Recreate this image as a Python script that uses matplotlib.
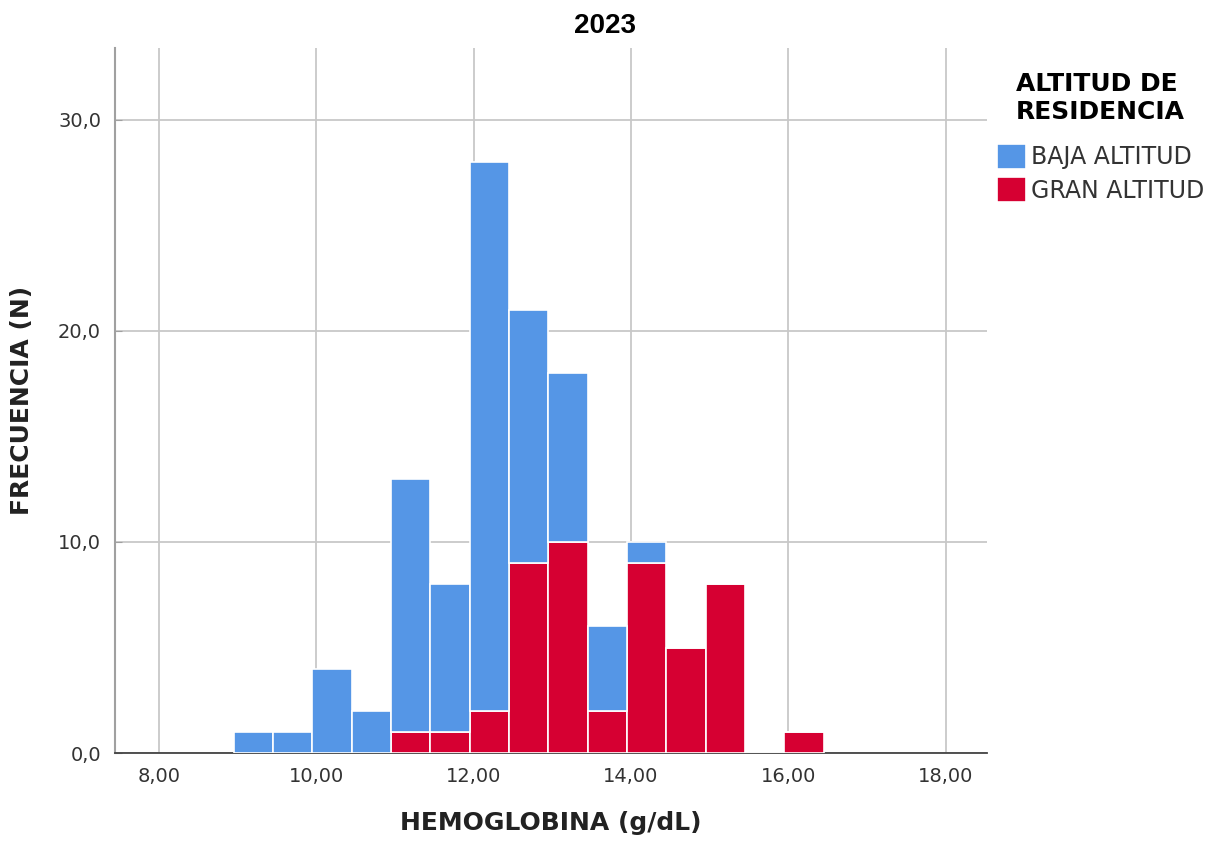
import matplotlib.pyplot as plt
import numpy as np

# bin left edges (g/dL), width 0.5
bin_left = [9.0, 9.5, 10.0, 10.5, 11.0, 11.5, 12.0, 12.5, 13.0, 13.5, 14.0, 14.5, 15.0, 15.5, 16.0]
# counts per bin
gran_altitud = [0, 0, 0, 0, 1, 1, 2, 9, 10, 2, 9, 5, 8, 0, 1]
baja_altitud = [1, 1, 4, 2, 12, 7, 26, 12, 8, 4, 1, 0, 0, 0, 0]

blue = '#5596E6'
red = '#D60032'

fig = plt.figure(figsize=(12.1, 8.52), dpi=100)
ax = fig.add_axes([0.095, 0.116, 0.721, 0.828])

left = np.array(bin_left) - 0.05
ax.bar(left, gran_altitud, width=0.5, align='edge', color=red,
       edgecolor='white', linewidth=1.2, zorder=3, label='GRAN ALTITUD')
ax.bar(left, baja_altitud, width=0.5, align='edge', bottom=gran_altitud,
       color=blue, edgecolor='white', linewidth=1.2, zorder=3, label='BAJA ALTITUD')

ax.set_xlim(7.44, 18.53)
ax.set_ylim(0, 33.4)
ax.set_xticks([8, 10, 12, 14, 16, 18])
ax.set_xticklabels(['8,00', '10,00', '12,00', '14,00', '16,00', '18,00'])
ax.set_yticks([0, 10, 20, 30])
ax.set_yticklabels(['0,0', '10,0', '20,0', '30,0'])
ax.grid(True, color='#C8C8C8', linewidth=1.3, zorder=0)
ax.set_axisbelow(True)

for s in ['top', 'right']:
    ax.spines[s].set_visible(False)
ax.spines['left'].set_color('#A0A0A0')
ax.spines['left'].set_linewidth(1.5)
ax.spines['bottom'].set_color('#444444')
ax.spines['bottom'].set_linewidth(1.3)
ax.tick_params(axis='both', labelsize=14, labelcolor='#333333', length=0, pad=10)
ax.tick_params(axis='y', direction='in', length=5, color='#A0A0A0')

ax.set_xlabel('HEMOGLOBINA (g/dL)', fontsize=18, fontweight='bold',
              color='#222222', labelpad=18)
ax.set_ylabel('FRECUENCIA (N)', fontsize=18, fontweight='bold',
              color='#222222', labelpad=17)
fig.suptitle('2023', fontsize=20, fontweight='bold', family='Liberation Sans', y=0.985)

handles, labels = ax.get_legend_handles_labels()
leg = fig.legend(handles[::-1], labels[::-1], title='ALTITUD DE\nRESIDENCIA',
                 loc='upper left', bbox_to_anchor=(0.806, 0.94), frameon=False,
                 fontsize=17, handlelength=1.25, handleheight=1.25,
                 handletextpad=0.2, labelspacing=0.35,
                 title_fontproperties={'weight': 'bold', 'size': 18})
leg._legend_box.sep = 14
for t in leg.get_texts():
    t.set_color('#333333')

plt.savefig('out.png', dpi=100)
